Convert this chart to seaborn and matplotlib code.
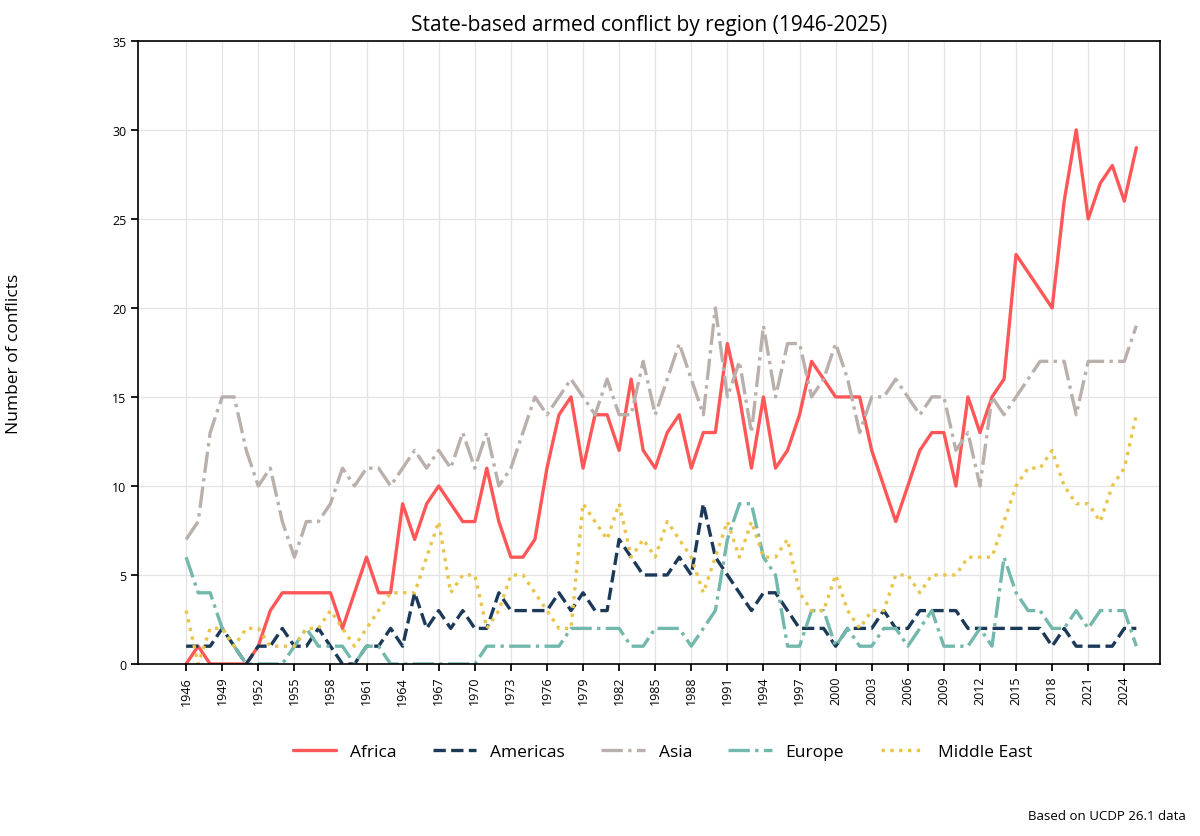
import pandas as pd
import numpy as np
import matplotlib
matplotlib.use("Agg")
import matplotlib.pyplot as plt
import seaborn as sns

# ------------------------------
# DATA
# ------------------------------
years = list(range(1946, 2026))

africa = [0, 1, 0, 0, 0, 0, 1, 3, 4, 4, 4, 4, 4, 2, 4, 6, 4, 4, 9, 7,
          9, 10, 9, 8, 8, 11, 8, 6, 6, 7, 11, 14, 15, 11, 14, 14, 12, 16, 12, 11,
          13, 14, 11, 13, 13, 18, 15, 11, 15, 11, 12, 14, 17, 16, 15, 15, 15, 12, 10, 8,
          10, 12, 13, 13, 10, 15, 13, 15, 16, 23, 22, 21, 20, 26, 30, 25, 27, 28, 26, 29]

americas = [1, 1, 1, 2, 1, 0, 1, 1, 2, 1, 1, 2, 1, 0, 0, 1, 1, 2, 1, 4,
            2, 3, 2, 3, 2, 2, 4, 3, 3, 3, 3, 4, 3, 4, 3, 3, 7, 6, 5, 5,
            5, 6, 5, 9, 6, 5, 4, 3, 4, 4, 3, 2, 2, 2, 1, 2, 2, 2, 3, 2,
            2, 3, 3, 3, 3, 2, 2, 2, 2, 2, 2, 2, 1, 2, 1, 1, 1, 1, 2, 2]

asia = [7, 8, 13, 15, 15, 12, 10, 11, 8, 6, 8, 8, 9, 11, 10, 11, 11, 10, 11, 12,
        11, 12, 11, 13, 11, 13, 10, 11, 13, 15, 14, 15, 16, 15, 14, 16, 14, 14, 17, 14,
        16, 18, 16, 14, 20, 15, 17, 13, 19, 15, 18, 18, 15, 16, 18, 16, 13, 15, 15, 16,
        15, 14, 15, 15, 12, 13, 10, 15, 14, 15, 16, 17, 17, 17, 14, 17, 17, 17, 17, 19]

europe = [6, 4, 4, 2, 1, 0, 0, 0, 0, 1, 2, 1, 1, 1, 0, 1, 1, 0, 0, 0,
          0, 0, 0, 0, 0, 1, 1, 1, 1, 1, 1, 1, 2, 2, 2, 2, 2, 1, 1, 2,
          2, 2, 1, 2, 3, 7, 9, 9, 6, 5, 1, 1, 3, 3, 1, 2, 1, 1, 2, 2,
          1, 2, 3, 1, 1, 1, 2, 1, 6, 4, 3, 3, 2, 2, 3, 2, 3, 3, 3, 1]

middle_east = [3, 0, 2, 2, 1, 2, 2, 1, 1, 1, 2, 2, 3, 2, 1, 2, 3, 4, 4, 4,
               6, 8, 4, 5, 5, 2, 3, 5, 5, 4, 3, 2, 2, 9, 8, 7, 9, 6, 7, 6,
               8, 7, 6, 4, 6, 8, 6, 8, 6, 6, 7, 4, 3, 3, 5, 3, 2, 3, 3, 5,
               5, 4, 5, 5, 5, 6, 6, 6, 8, 10, 11, 11, 12, 10, 9, 9, 8, 10, 11, 14]

regions = ["Africa", "Americas", "Asia", "Europe", "Middle East"]
colors = ["#ff5757", "#1c3a58", "#b9b0ac", "#72b8ad", "#e8c54a"]
styles = ["-", "--", "-.", "-.", ":"]

df = pd.DataFrame({
    "year": years * 5,
    "count": africa + americas + asia + europe + middle_east,
    "region": np.repeat(regions, len(years)),
})

# ------------------------------
# PLOT
# ------------------------------
sns.set_theme(style="ticks")
plt.rcParams["font.family"] = ["Open Sans", "DejaVu Sans"]
plt.rcParams["text.color"] = "black"
plt.rcParams["axes.labelcolor"] = "black"
plt.rcParams["xtick.color"] = "black"
plt.rcParams["ytick.color"] = "black"

fig = plt.figure(figsize=(12, 8.37), dpi=100)
ax = fig.add_axes([0.115, 0.2055, 0.852, 0.7445])

for region, color, ls in zip(regions, colors, styles):
    sns.lineplot(
        data=df[df["region"] == region],
        x="year",
        y="count",
        color=color,
        linestyle=ls,
        linewidth=2.4,
        label=region,
        ax=ax
    )

ax.set_xlim(1942, 2027)
ax.set_ylim(0, 35)
ax.set_xticks(range(1946, 2025, 3))
ax.set_yticks(range(0, 36, 5))
ax.tick_params(axis="x", rotation=90, labelsize=9, length=5)
ax.tick_params(axis="y", labelsize=9, length=5)
ax.grid(True, color="#e3e3e3", linewidth=0.9)
ax.set_axisbelow(True)

for side in ["top", "right", "left", "bottom"]:
    ax.spines[side].set_visible(True)
    ax.spines[side].set_color("black")
    ax.spines[side].set_linewidth(1.2)

ax.set_title("State-based armed conflict by region (1946-2025)", fontsize=15, pad=8)
ax.set_xlabel("")
ax.set_ylabel("Number of conflicts", fontsize=12.5)
ax.yaxis.set_label_coords(-0.113, 0.5)

ax.legend(
    loc="center",
    bbox_to_anchor=(0.552, 0.10),
    bbox_transform=fig.transFigure,
    ncol=5,
    frameon=False,
    fontsize=12.5,
    handlelength=2.5,
    columnspacing=2.1
)

fig.text(0.988, 0.025, "Based on UCDP 26.1 data", ha="right", va="center", fontsize=9.5)

fig.savefig("out.png", dpi=100)
